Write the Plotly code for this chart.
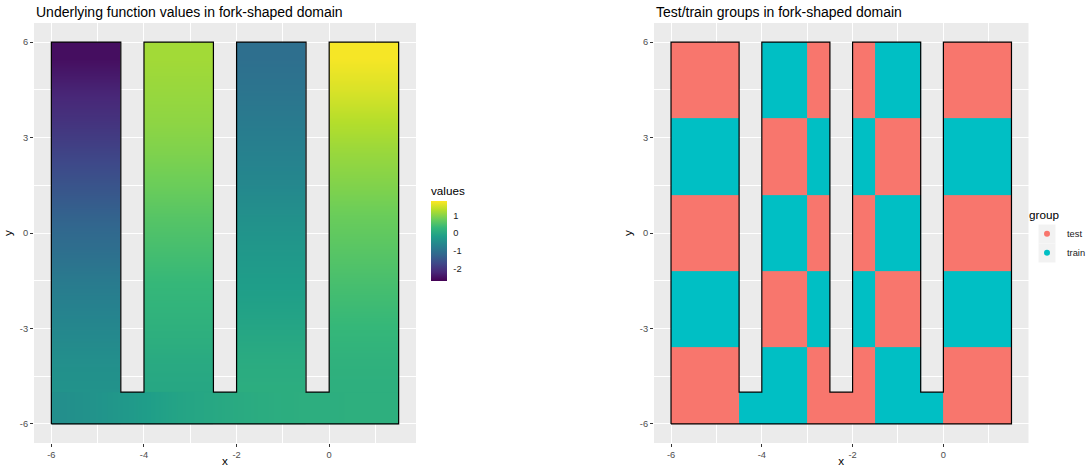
import plotly.graph_objects as go

# ---------------- data ----------------
# fork-shaped domain: four prongs joined by a base strip
prong_x0 = [-6.0, -4.0, -2.0, 0.0]
prong_x1 = [-4.5, -2.5, -0.5, 1.5]
base_bottom = -6.0
base_top = -5.0
domain_top = 6.0

boundary_x = [-6, 1.5, 1.5, 0, 0, -0.5, -0.5, -2, -2, -2.5, -2.5, -4, -4, -4.5, -4.5, -6, -6]
boundary_y = [-6, -6, 6, 6, -5, -5, 6, 6, -5, -5, 6, 6, -5, -5, 6, 6, -6]

# underlying function values read along each prong (rows at these y centres)
prong_y = [-4.5, -3.5, -2.5, -1.5, -0.5, 0.5, 1.5, 2.5, 3.5, 4.5, 5.5]
values_prong1 = [-0.38, -0.52, -0.66, -0.82, -1.05, -1.25, -1.50, -1.75, -2.00, -2.22, -2.50]
values_prong2 = [-0.02, 0.12, 0.22, 0.32, 0.46, 0.60, 0.78, 0.92, 1.03, 1.10, 1.17]
values_prong3 = [0.12, 0.02, -0.10, -0.20, -0.30, -0.42, -0.58, -0.70, -0.82, -0.94, -1.04]
values_prong4 = [0.14, 0.25, 0.36, 0.48, 0.62, 0.76, 0.94, 1.10, 1.30, 1.55, 1.75]
prong_values = [values_prong1, values_prong2, values_prong3, values_prong4]

# values along the base strip (column edges / values)
base_x_edges = [-6.0, -5.5, -5.0, -4.5, -4.0, -3.5, -3.0, -2.5, -2.0, -1.5, -1.0, -0.5, 0.0, 0.5, 1.0, 1.5]
values_base = [-0.45, -0.40, -0.33, -0.25, -0.15, -0.07, -0.02, 0.03, 0.07, 0.10, 0.12, 0.13, 0.14, 0.15, 0.15]

value_min = -2.67
value_max = 1.80
value_ticks = [-2, -1, 0, 1]
value_ticklabels = ["-2", "-1", "0", "1"]

# test/train checkerboard blocks (rows bottom->top, columns left->right)
group_x_edges = [-6.0, -4.5, -3.0, -1.5, 0.0, 1.5]
group_y_edges = [-6.0, -3.6, -1.2, 1.2, 3.6, 6.0]
group_blocks = [
    ["test", "train", "test", "train", "test"],
    ["train", "test", "train", "test", "train"],
    ["test", "train", "test", "train", "test"],
    ["train", "test", "train", "test", "train"],
    ["test", "train", "test", "train", "test"],
]
group_names = ["test", "train"]
group_colors = ["#F8766D", "#00BFC4"]

x_ticks = [-6, -4, -2, 0]
x_ticklabels = ["-6", "-4", "-2", "0"]
x_minor = [-5, -3, -1, 1]
y_ticks = [-6, -3, 0, 3, 6]
y_ticklabels = ["-6", "-3", "0", "3", "6"]
y_minor = [-4.5, -1.5, 1.5, 4.5]

title_left = "Underlying function values in fork-shaped domain"
title_right = "Test/train groups in fork-shaped domain"

# ---------------- figure ----------------
W, H = 1087, 467
FONT = "Liberation Sans, Arial, sans-serif"

fig = go.Figure()

# left panel: function values (prongs reach under the base strip to avoid seams)
prong_y_edges = [base_bottom] + [c + 0.5 for c in prong_y]
for x0, x1, vals in zip(prong_x0, prong_x1, prong_values):
    fig.add_trace(go.Heatmap(
        x=[x0, (x0 + x1) / 2, x1],
        y=prong_y_edges,
        z=[[v, v] for v in vals],
        coloraxis="coloraxis", zsmooth="best",
        xaxis="x", yaxis="y", hoverinfo="skip", showlegend=False,
    ))
fig.add_trace(go.Heatmap(
    x=base_x_edges,
    y=[base_bottom, (base_bottom + base_top) / 2, base_top],
    z=[values_base, values_base],
    coloraxis="coloraxis", zsmooth="best",
    xaxis="x", yaxis="y", hoverinfo="skip", showlegend=False,
))
fig.add_trace(go.Scatter(
    x=boundary_x, y=boundary_y, mode="lines",
    line=dict(color="black", width=1.2),
    xaxis="x", yaxis="y", showlegend=False, hoverinfo="skip",
))

# right panel: test/train groups
cell_x = sorted(set(group_x_edges + prong_x0 + prong_x1))
cell_y = sorted(set(group_y_edges + [base_top]))


def in_domain(cx, cy):
    if cy < base_top:
        return True
    return any(a <= cx <= b for a, b in zip(prong_x0, prong_x1))


def block_index(edges, v):
    for i in range(len(edges) - 1):
        if edges[i] <= v <= edges[i + 1]:
            return i
    return None


z_group = []
for j in range(len(cell_y) - 1):
    cy = (cell_y[j] + cell_y[j + 1]) / 2
    row = []
    for i in range(len(cell_x) - 1):
        cx = (cell_x[i] + cell_x[i + 1]) / 2
        if in_domain(cx, cy):
            g = group_blocks[block_index(group_y_edges, cy)][block_index(group_x_edges, cx)]
            row.append(group_names.index(g))
        else:
            row.append(None)
    z_group.append(row)

fig.add_trace(go.Heatmap(
    x=cell_x, y=cell_y, z=z_group, zmin=0, zmax=1,
    colorscale=[[0, group_colors[0]], [0.5, group_colors[0]], [0.5, group_colors[1]], [1, group_colors[1]]],
    showscale=False, xaxis="x2", yaxis="y2", hoverinfo="skip", showlegend=False,
))
fig.add_trace(go.Scatter(
    x=boundary_x, y=boundary_y, mode="lines",
    line=dict(color="black", width=1.2),
    xaxis="x2", yaxis="y2", showlegend=False, hoverinfo="skip",
))
for name, col in zip(group_names, group_colors):
    fig.add_trace(go.Scatter(
        x=[None], y=[None], mode="markers", name=name,
        marker=dict(color=col, size=6), xaxis="x2", yaxis="y2",
    ))


def px_x(p):
    return p / W


def px_y(p):
    return 1 - p / H


axis_style = dict(
    showgrid=True, gridcolor="white", gridwidth=1.4,
    zeroline=False, showline=False, automargin=False,
    ticks="outside", ticklen=3, tickwidth=1, tickcolor="#333333",
    tickfont=dict(family=FONT, size=9.3, color="#4D4D4D"),
)
title_font = dict(family=FONT, size=11.7, color="black")

xr = [-6.375, 1.875]
yr = [-6.6, 6.6]
ydom = [px_y(443), px_y(23)]

# legend key backgrounds (ggplot style grey key squares)
legend_marker_x = 1047
legend_marker_y = [234, 253]
key_shapes = [
    dict(type="rect", xref="paper", yref="paper", layer="above",
         x0=px_x(legend_marker_x - 8.5), x1=px_x(legend_marker_x + 8.5),
         y0=px_y(my - 9.5), y1=px_y(my + 9.5),
         fillcolor="#F2F2F2", line=dict(width=0))
    for my in legend_marker_y
]

fig.update_layout(
    width=W, height=H,
    margin=dict(l=0, r=0, t=0, b=0, autoexpand=False),
    paper_bgcolor="white", plot_bgcolor="#EBEBEB",
    font=dict(family=FONT, color="black"),
    xaxis=dict(axis_style, domain=[px_x(34), px_x(416)], range=xr,
               tickvals=x_ticks, ticktext=x_ticklabels,
               minor=dict(tickvals=x_minor, showgrid=True, gridcolor="white", gridwidth=0.7, ticks=""),
               title=dict(text="x", font=title_font, standoff=2), anchor="y"),
    yaxis=dict(axis_style, domain=ydom, range=yr,
               tickvals=y_ticks, ticktext=y_ticklabels,
               minor=dict(tickvals=y_minor, showgrid=True, gridcolor="white", gridwidth=0.7, ticks=""),
               title=dict(text="y", font=title_font, standoff=4), anchor="x"),
    xaxis2=dict(axis_style, domain=[px_x(654), px_x(1028.5)], range=xr,
                tickvals=x_ticks, ticktext=x_ticklabels,
                minor=dict(tickvals=x_minor, showgrid=True, gridcolor="white", gridwidth=0.7, ticks=""),
                title=dict(text="x", font=title_font, standoff=2), anchor="y2"),
    yaxis2=dict(axis_style, domain=ydom, range=yr,
                tickvals=y_ticks, ticktext=y_ticklabels,
                minor=dict(tickvals=y_minor, showgrid=True, gridcolor="white", gridwidth=0.7, ticks=""),
                title=dict(text="y", font=title_font, standoff=4), anchor="x2"),
    coloraxis=dict(
        colorscale="Viridis", cmin=value_min, cmax=value_max,
        colorbar=dict(
            x=px_x(431), xanchor="left", y=px_y(183), yanchor="top",
            len=98, lenmode="pixels", thickness=16, thicknessmode="pixels",
            outlinewidth=0, xpad=0, ypad=0,
            tickvals=value_ticks, ticktext=value_ticklabels,
            ticks="outside", ticklen=5, tickcolor="rgba(255,255,255,0)",
            tickfont=dict(family=FONT, size=9.3, color="#1A1A1A"),
            title=dict(text="values", side="top", font=dict(family=FONT, size=11.7, color="black")),
        ),
    ),
    legend=dict(
        title=dict(text="group", font=dict(family=FONT, size=11.7, color="black")),
        font=dict(family=FONT, size=9.3, color="#1A1A1A"),
        x=px_x(legend_marker_x - 20), xanchor="left", y=px_y(204), yanchor="top",
        bgcolor="rgba(0,0,0,0)", itemwidth=30, tracegroupgap=0,
    ),
    shapes=key_shapes,
    annotations=[
        dict(text=title_left, x=0, y=px_y(12), xref="x domain", yref="paper",
             xanchor="left", yanchor="middle", showarrow=False,
             font=dict(family=FONT, size=14, color="black")),
        dict(text=title_right, x=0, y=px_y(12), xref="x2 domain", yref="paper",
             xanchor="left", yanchor="middle", showarrow=False,
             font=dict(family=FONT, size=14, color="black")),
    ],
)

fig.write_html("out.html")
